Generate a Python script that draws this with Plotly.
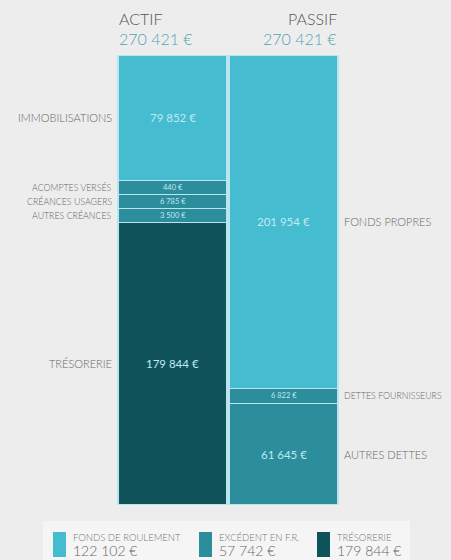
import plotly.graph_objects as go

# ---------------- data ----------------
actif_labels = ["TRÉSORERIE", "AUTRES CRÉANCES", "CRÉANCES USAGERS", "ACOMPTES VERSÉS", "IMMOBILISATIONS"]
actif_values = [179844, 3500, 6785, 440, 79852]
actif_groups = ["treso", "excedent", "excedent", "excedent", "fr"]

passif_labels = ["AUTRES DETTES", "DETTES FOURNISSEURS", "FONDS PROPRES"]
passif_values = [61645, 6822, 201954]
passif_groups = ["excedent", "excedent", "fr"]

legend_names = ["FONDS DE ROULEMENT", "EXCÉDENT EN F.R.", "TRÉSORERIE"]
legend_values = [122102, 57742, 179844]
legend_groups = ["fr", "excedent", "treso"]

# display floor so that tiny items stay readable (as in the original infographic)
DISPLAY_FLOOR = 9000

COLORS = {"fr": "#46bcd0", "excedent": "#2c8e9d", "treso": "#10535b"}
BG = "#ededed"
FONT = "Lato"

def eur(v):
    return f"{v:,}".replace(",", " ") + " €"

fig = go.Figure()

annotations = []
columns = [("ACTIF", actif_labels, actif_values, actif_groups, 0),
           ("PASSIF", passif_labels, passif_values, passif_groups, 1)]

for col_name, labels, values, groups, xi in columns:
    disp = [max(v, DISPLAY_FLOOR) for v in values]
    total_disp = sum(disp)
    cum = 0.0
    for lab, v, d, g in zip(labels, values, disp, groups):
        fig.add_trace(go.Bar(
            x=[col_name], y=[d],
            marker=dict(color=COLORS[g], line=dict(color="#b9e6ee", width=1.2)),
            showlegend=False, hoverinfo="skip",
        ))
        center = (cum + d / 2) / total_disp * 100
        cum += d
        small = v < DISPLAY_FLOOR
        # value inside the bar
        annotations.append(dict(
            x=col_name, y=center, xref="x", yref="y", text=eur(v), showarrow=False,
            font=dict(family=FONT, size=7.5 if small else 11.5, color="#bfeaf2", weight=400),
            xanchor="center", yanchor="middle"))
        # outside label
        lab_font = dict(family=FONT, size=8.8 if small else 11, color="#666666", weight=300)
        if xi == 0:
            annotations.append(dict(
                x=-0.5, y=center, xref="x", yref="y", text=lab, showarrow=False,
                font=lab_font, xanchor="right", yanchor="middle", xshift=-3))
        else:
            annotations.append(dict(
                x=1.5, y=center, xref="x", yref="y", text=lab, showarrow=False,
                font=lab_font, xanchor="left", yanchor="middle", xshift=3))

# headers
actif_total = sum(actif_values)
passif_total = sum(passif_values)
hdr = dict(family=FONT, size=16, color="#555555", weight=300)
tot = dict(family=FONT, size=16, color="#4fa5b4", weight=300)
annotations += [
    dict(x=-0.5, y=1, xref="x", yref="paper", text="ACTIF", showarrow=False,
         font=hdr, xanchor="left", yanchor="middle", yshift=37),
    dict(x=-0.5, y=1, xref="x", yref="paper", text=eur(actif_total), showarrow=False,
         font=tot, xanchor="left", yanchor="middle", yshift=17),
    dict(x=1.5, y=1, xref="x", yref="paper", text="PASSIF", showarrow=False,
         font=hdr, xanchor="right", yanchor="middle", yshift=37),
    dict(x=1.5, y=1, xref="x", yref="paper", text=eur(passif_total), showarrow=False,
         font=tot, xanchor="right", yanchor="middle", yshift=17),
]

# ---------------- layout geometry (pixels) ----------------
W, H = 451, 560
L, R, T, B = 117, 112, 55, 55
PW, PH = W - L - R, H - T - B

def px(xp):
    return (xp - L) / PW

def py(yp):
    return (H - B - yp) / PH

shapes = [dict(type="rect", xref="paper", yref="paper",
               x0=px(43), x1=px(410), y0=py(562), y1=py(521),
               fillcolor="#f5f5f5", line=dict(width=0), layer="below")]

legend_x = [53, 199, 317]
for name, val, g, lx in zip(legend_names, legend_values, legend_groups, legend_x):
    shapes.append(dict(type="rect", xref="paper", yref="paper",
                       x0=px(lx), x1=px(lx + 13), y0=py(557), y1=py(532),
                       fillcolor=COLORS[g], line=dict(width=0)))
    annotations.append(dict(x=px(lx + 18), y=py(537), xref="paper", yref="paper",
                            text=name, showarrow=False, xanchor="left", yanchor="middle",
                            font=dict(family=FONT, size=9.5, color="#777777", weight=300)))
    annotations.append(dict(x=px(lx + 18), y=py(550), xref="paper", yref="paper",
                            text=eur(val), showarrow=False, xanchor="left", yanchor="middle",
                            font=dict(family=FONT, size=14, color="#666666", weight=300)))

fig.update_layout(
    width=W, height=H,
    margin=dict(l=L, r=R, t=T, b=B, pad=0),
    barmode="stack", barnorm="percent", bargap=0.018,
    paper_bgcolor=BG, plot_bgcolor=BG,
    xaxis=dict(visible=False, range=[-0.5, 1.5], fixedrange=True),
    yaxis=dict(visible=False, range=[0, 100], fixedrange=True),
    annotations=annotations, shapes=shapes,
    showlegend=False,
    font=dict(family=FONT),
)

fig.write_html(
    "out.html",
    config={"displayModeBar": False},
    post_script="document.body.style.margin='0';document.body.style.overflow='hidden';",
)
